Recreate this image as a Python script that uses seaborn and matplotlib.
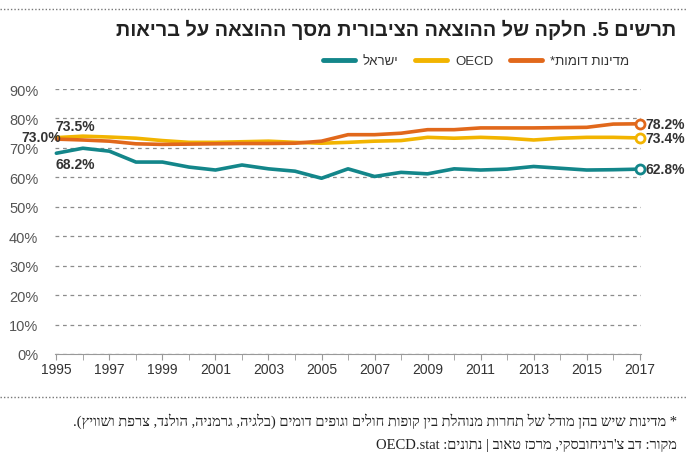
import re
import matplotlib
matplotlib.use("Agg")
import matplotlib.pyplot as plt
import seaborn as sns
from matplotlib.lines import Line2D

# colours
color_teal = '#13868a'
color_yellow = '#f2b400'
color_orange = '#e1681b'
color_grid = '#8c8c8c'
color_dgrey = '#555555'

years = list(range(1995, 2018))
israel = [68.2, 69.9, 68.9, 65.2, 65.2, 63.5, 62.5, 64.2, 62.9, 62.1, 59.7, 62.9,
          60.3, 61.7, 61.2, 62.9, 62.5, 62.8, 63.7, 63.1, 62.5, 62.6, 62.8]
oecd = [73.5, 74.0, 73.7, 73.3, 72.5, 71.9, 71.9, 72.1, 72.3, 71.9, 71.6, 71.9,
        72.3, 72.5, 73.6, 73.3, 73.6, 73.3, 72.7, 73.3, 73.6, 73.6, 73.4]
similar = [73.0, 72.7, 72.3, 71.4, 71.2, 71.3, 71.4, 71.5, 71.5, 71.6, 72.3, 74.5,
           74.5, 75.0, 76.2, 76.2, 76.8, 76.8, 76.8, 76.9, 77.0, 78.1, 78.2]

series_names = ['ישראל', 'OECD', 'מדינות דומות*']
y_ticks = [0, 10, 20, 30, 40, 50, 60, 70, 80, 90]
x_ticks = list(range(1995, 2018, 2))

title = 'תרשים 5. חלקה של ההוצאה הציבורית מסך ההוצאה על בריאות'
note = '* מדינות שיש בהן מודל של תחרות מנוהלת בין קופות חולים וגופים דומים (בלגיה, גרמניה, הולנד, צרפת ושוויץ).'
source = "מקור: דב צ'רניחובסקי, מרכז טאוב | נתונים: OECD.stat"


def rtl(s):
    # matplotlib has no bidi: flip hebrew to visual order, keep latin/number runs as is
    r = s[::-1]
    r = re.sub(r'[A-Za-z0-9]+(?:\.[A-Za-z0-9]+)*', lambda m: m.group(0)[::-1], r)
    return r.translate(str.maketrans('()', ')('))


sns.set_style('white')
plt.rcParams['font.family'] = ['Liberation Sans', 'DejaVu Sans']

fig = plt.figure(figsize=(6.87, 4.56), dpi=100)
ax = fig.add_axes([0.0801, 0.2215, 0.853, 0.581])

data = [israel, oecd, similar]
colors = [color_teal, color_yellow, color_orange]
for vals, c, name in zip(data, colors, series_names):
    sns.lineplot(x=years, y=vals, ax=ax, color=c, lw=2.6, label=rtl(name), clip_on=False, zorder=3)
    ax.plot(years[-1], vals[-1], 'o', ms=6.5, mfc='white', mec=c, mew=2, clip_on=False, zorder=4)

ax.set_xlim(1994.95, 2017.05)
ax.set_ylim(0, 90)
ax.set_yticks(y_ticks)
ax.set_yticklabels([f'{v}%' for v in y_ticks])
ax.set_xticks(years, minor=True)
ax.set_xticks(x_ticks)
ax.set_xticklabels([str(v) for v in x_ticks])
ax.grid(axis='y', ls=(0, (3, 3)), lw=0.9, color=color_grid)
ax.grid(axis='x', visible=False)
sns.despine(ax=ax, top=True, right=True, left=True, bottom=False)
ax.spines['bottom'].set_color('#999999')
ax.tick_params(axis='y', length=0, pad=12, labelsize=10.5, labelcolor=color_dgrey)
ax.tick_params(axis='x', which='both', bottom=True, direction='out', length=4, color='#999999',
               labelsize=10, labelcolor='#333333', pad=2)
ax.set_xlabel('')
ax.set_ylabel('')

# value labels at both ends
lab = dict(fontsize=10, fontweight='bold', color='#333333', textcoords='offset pixels', va='center')
ax.annotate('73.5%', (1995, oecd[0]), xytext=(-1, 12), ha='left', **lab)
ax.annotate('73.0%', (1995, similar[0]), xytext=(5, 2), ha='right', **lab)
ax.annotate('68.2%', (1995, israel[0]), xytext=(-1, -11), ha='left', **lab)
for vals in data:
    ax.annotate(f'{vals[-1]:.1f}%', (2017, vals[-1]), xytext=(6, 0), ha='left', **lab)

ax.legend(loc='center', bbox_to_anchor=(476 / 687, 1 - 62 / 456), bbox_transform=fig.transFigure,
          ncol=3, frameon=False, fontsize=9.5, handlelength=2.4, handletextpad=0.6,
          columnspacing=1.3, labelcolor='#333333')
for h in ax.get_legend().get_lines():
    h.set_linewidth(3.5)

fig.text(0.985, 0.934, rtl(title), ha='right', va='center', fontsize=14.3, fontweight='bold', color='#222222')

# dotted separators
for yy in [1 - 10 / 456, 1 - 398 / 456]:
    fig.add_artist(Line2D([0, 1], [yy, yy], transform=fig.transFigure, ls=(0, (1, 1.5)),
                          lw=1, color='#777777'))

fig.text(0.985, 0.077, rtl(note), ha='right', va='center', fontsize=10.5, family='Liberation Serif', color='#222222')
fig.text(0.985, 0.024, rtl(source), ha='right', va='center', fontsize=10.5, family='Liberation Serif', color='#222222')

fig.savefig('out.png', dpi=100)
